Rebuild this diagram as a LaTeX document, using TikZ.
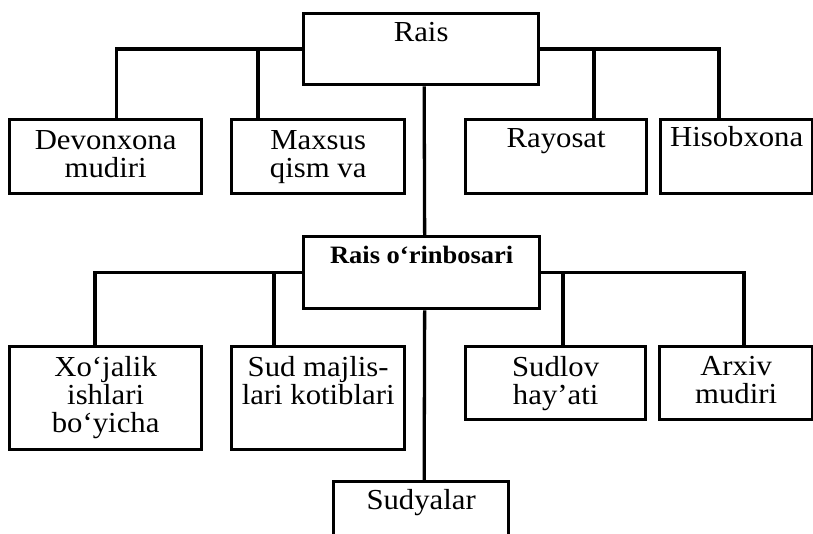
\documentclass[tikz,border=0pt]{standalone}
\usepackage{fontspec}
\setmainfont{Liberation Serif}[FakeStretch=1.06]
\usetikzlibrary{positioning}

\begin{document}
\begin{tikzpicture}[
            x=1pt, y=-1pt,
            line width=3.3pt,
            box/.style={rectangle, draw, anchor=north west, inner sep=0pt},
            lbl/.style={align=center, inner sep=0pt, font=\fontsize{29}{28}\selectfont}
        ]
            \useasboundingbox (0,0) rectangle (813,534);
            \clip (0,0) rectangle (813,534);

            % RAIS
            \node[box, minimum width=235pt, minimum height=71pt] (rais) at (302,12) {};
            \node[lbl, below=9pt of rais.north] (rais-t) {Rais};

            % first row
            \node[box, minimum width=192pt, minimum height=74pt] (devon) at (8,118) {};
            \node[lbl, below=11pt of devon.north] (devon-t) {Devonxona\\mudiri};
            \node[box, minimum width=173pt, minimum height=74pt] (maxsus) at (230,118) {};
            \node[lbl, below=11pt of maxsus.north] (maxsus-t) {Maxsus\\qism va};
            \node[box, minimum width=181pt, minimum height=74pt] (rayosat) at (464,118) {};
            \node[lbl, below=9pt of rayosat.north] (rayosat-t) {Rayosat};
            \node[box, minimum width=152pt, minimum height=74pt] (hisob) at (659,118) {};
            \node[lbl, below=7pt of hisob.north] (hisob-t) {Hisobxona};

            % RAIS O'RINBOSARI
            \node[box, minimum width=236pt, minimum height=72pt] (orin) at (302,235) {};
            \node[lbl, below=10pt of orin.north, font=\fontsize{25}{28}\selectfont\bfseries] (orin-t) {Rais o‘rinbosari};

            % second row
            \node[box, minimum width=192pt, minimum height=103pt] (xojalik) at (8,345) {};
            \node[lbl, below=10pt of xojalik.north] (xojalik-t) {Xo‘jalik\\ishlari\\bo‘yicha};
            \node[box, minimum width=173pt, minimum height=103pt] (sudmaj) at (230,345) {};
            \node[lbl, below=10pt of sudmaj.north] (sudmaj-t) {Sud majlis-\\lari kotiblari};
            \node[box, minimum width=180pt, minimum height=73pt] (sudlov) at (464,345) {};
            \node[lbl, below=10pt of sudlov.north] (sudlov-t) {Sudlov\\hay’ati};
            \node[box, minimum width=153pt, minimum height=73pt] (arxiv) at (658,345) {};
            \node[lbl, below=10pt of arxiv.north] (arxiv-t) {Arxiv\\mudiri};

            % SUDYALAR
            \node[box, minimum width=175pt, minimum height=80pt] (sudya) at (332,480) {};
            \node[lbl, below=8pt of sudya.north] (sudya-t) {Sudyalar};

            % links from Rais
            \draw (rais.west) -| ([xshift=11pt]devon.north);
            \draw (rais.west) -| ([xshift=28pt]maxsus.north west);
            \draw (rais.east) -| ([xshift=130pt]rayosat.north west);
            \draw (rais.east) -| ([xshift=60pt]hisob.north west);
            \draw ([xshift=3pt]rais.south) -- ([xshift=3pt]orin.north);

            % links from Rais o'rinbosari
            \draw (orin.west) -| ([xshift=87pt]xojalik.north west);
            \draw (orin.west) -| ([xshift=44pt]sudmaj.north west);
            \draw (orin.east) -| ([xshift=99pt]sudlov.north west);
            \draw (orin.east) -| ([xshift=86pt]arxiv.north west);
            \draw ([xshift=3pt]orin.south) -- ([xshift=3pt]sudya.north);
        \end{tikzpicture}
\end{document}
